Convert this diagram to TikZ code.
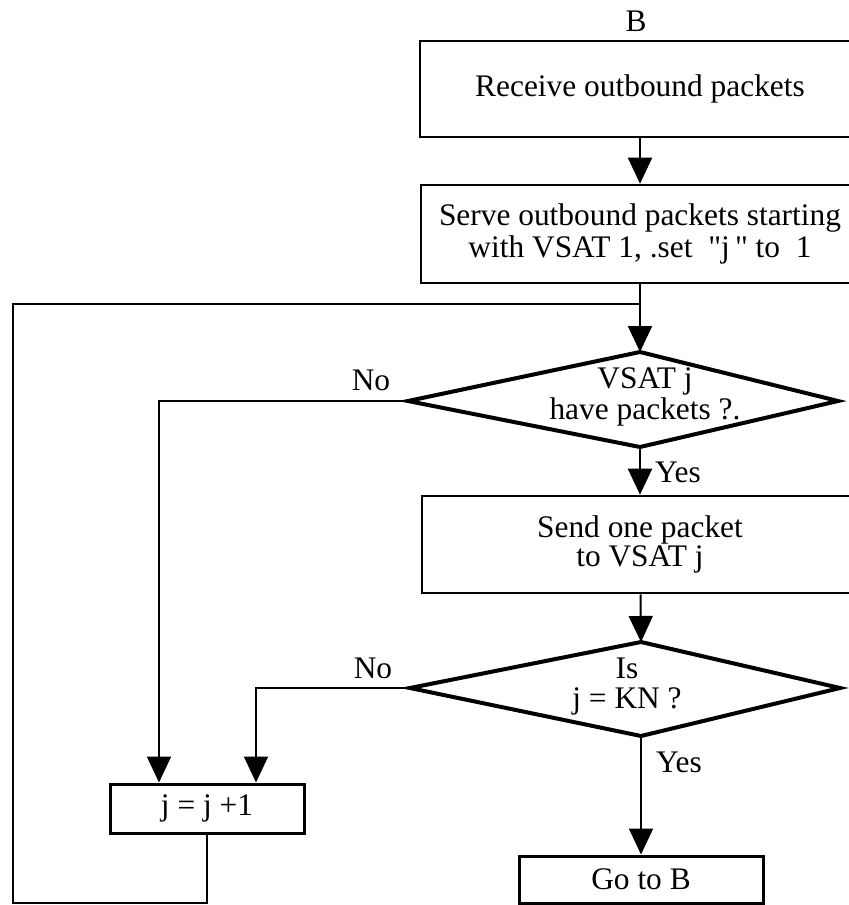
\documentclass[tikz,border=0pt]{standalone}
\usepackage{fontspec}
\setmainfont{Liberation Serif}
\usetikzlibrary{arrows.meta}
\tikzset{procbox/.style={draw, line width=1.3pt, inner sep=0pt, align=center},
  decision/.style={line width=2pt, line join=miter},
  flowline/.style={line width=1pt},
  flowarrow/.style={line width=1pt, -{Triangle[length=13pt,width=12pt]}}}
\newcommand{\txtsize}[1]{\fontsize{15.7pt}{#1}\selectfont}

\begin{document}
\begin{tikzpicture}[x=0.5pt, y=-0.5pt, every node/.style={font=\txtsize{15.5pt}}]
      \useasboundingbox (0, 0) rectangle (848, 905);

      \node (lblB) at (636, 21) {B};
      \node [procbox, minimum width=220pt, minimum height=48pt] (recv) at (640, 89) {Receive outbound packets};
      \node [procbox, minimum width=219pt, minimum height=49pt, font=\txtsize{16pt}] (serve) at (640, 234) {Serve outbound packets starting\\with VSAT 1, .set\ \ \textquotedbl j\,\textquotedbl\ to\ \ 1};

      % first test
      \coordinate (d1t) at (640, 352);
      \coordinate (d1l) at (408, 401);
      \coordinate (d1r) at (838, 401);
      \coordinate (d1b) at (640, 447);
      \draw [decision] (d1t) -- (d1r) -- (d1b) -- (d1l) -- cycle;
      \node [align=center] (d1txt) at (645, 397) {VSAT j\\have packets ?.};

      \node [procbox, minimum width=218pt, minimum height=48.5pt, font=\txtsize{13.5pt}] (send) at (640, 544.5) {Send one packet\\to VSAT j};

      % second test
      \coordinate (d2t) at (641, 642);
      \coordinate (d2l) at (410, 688);
      \coordinate (d2r) at (840, 688);
      \coordinate (d2b) at (641, 736);
      \draw [decision] (d2t) -- (d2r) -- (d2b) -- (d2l) -- cycle;
      \node [align=center, font=\txtsize{15pt}] (d2txt) at (627, 687) {Is\\j = KN ?};

      \node [procbox, line width=1.5pt, minimum width=97pt, minimum height=24.5pt] (inc) at (207, 808.5) {j = j +1};
      \node [procbox, line width=1.5pt, minimum width=122pt, minimum height=23.5pt] (goB) at (641, 879.5) {Go to B};

      \coordinate (incL) at ([xshift=-24pt]inc.north);
      \coordinate (incR) at ([xshift=24.5pt]inc.north);
      \coordinate (loopBL) at (13, 903);
      \coordinate (loopJoin) at (640, 304);

      \draw [flowarrow] (recv) -- (serve);
      \draw [flowarrow] (serve) -- (d1t);
      \draw [flowarrow] (d1b) -- (send);
      \draw [flowarrow] (send) -- (d2t);
      \draw [flowarrow] (d2b) -- (goB);
      \draw [flowarrow] (d1l) -| (incL);
      \draw [flowarrow] (d2l) -| (incR);
      \draw [flowline] (inc.south) |- (loopBL) |- (loopJoin);

      \node (no1) at (371, 380) {No};
      \node (yes1) at (678, 472) {Yes};
      \node (no2) at (373, 668) {No};
      \node (yes2) at (679, 762) {Yes};
    \end{tikzpicture}
\end{document}
